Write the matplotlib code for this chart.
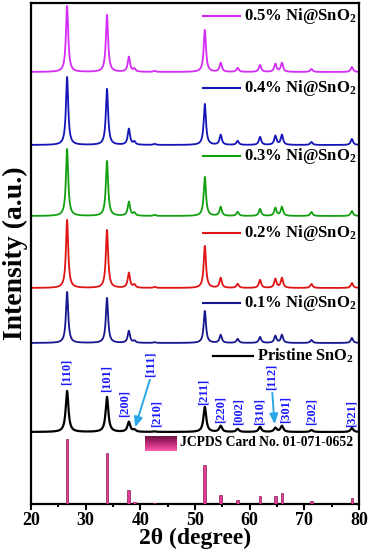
import numpy as np
import matplotlib
matplotlib.use("Agg")
import matplotlib.pyplot as plt
from matplotlib.colors import LinearSegmentedColormap

plt.rcParams['font.family'] = ['Liberation Serif', 'DejaVu Serif']
plt.rcParams['font.weight'] = 'bold'
plt.rcParams['axes.labelweight'] = 'bold'
plt.rcParams['mathtext.fontset'] = 'custom'
plt.rcParams['mathtext.rm'] = 'Liberation Serif:bold'
plt.rcParams['mathtext.it'] = 'Liberation Serif:bold'
plt.rcParams['mathtext.bf'] = 'Liberation Serif:bold'

# ---- data ----
peak_pos = [26.6, 33.9, 37.9, 38.9, 42.6, 51.8, 54.7, 57.8, 61.9, 64.7, 65.9, 71.3, 78.7]
hkl = ['[110]', '[101]', '[200]', '[111]', '[210]', '[211]', '[220]', '[002]',
       '[310]', '[112]', '[301]', '[202]', '[321]']
jcpds_int = [65, 51, 14, 2, 0.6, 39, 9, 4, 8, 8, 11, 3, 6]

pristine = [41, 35, 10, 2, 0.5, 25, 6, 3, 5, 4, 6, 2, 4]
ni01 = [51, 45, 12, 2, 0.7, 32, 8, 4, 6, 7, 8, 3, 5]
ni02 = [68, 58, 15, 3, 1, 42, 10, 4, 8, 9, 10, 4, 5]
ni03 = [67, 55, 14, 3, 1, 39, 9, 4, 7, 8, 9, 4, 5]
ni04 = [68, 56, 16, 3, 1, 41, 10, 4, 8, 9, 10, 3, 6]
ni05 = [66, 57, 15, 3, 1, 42, 9, 4, 7, 8, 9, 3, 5]

series_names = ['Pristine SnO$_{\\mathbf{2}}$', '0.1% Ni@SnO$_{\\mathbf{2}}$', '0.2% Ni@SnO$_{\\mathbf{2}}$',
                '0.3% Ni@SnO$_{\\mathbf{2}}$', '0.4% Ni@SnO$_{\\mathbf{2}}$', '0.5% Ni@SnO$_{\\mathbf{2}}$']
series_vals = [pristine, ni01, ni02, ni03, ni04, ni05]
offsets = [72, 161, 216, 288, 359, 432]
fwhm = [0.6, 0.5, 0.5, 0.5, 0.5, 0.5]
colors = ['#000000', '#16168f', '#e01414', '#12a012', '#1414b8', '#d42cf5']
label_y = [148, 201, 271, 348, 416, 488]

hkl_x = [26.6, 33.9, 37.2, 41.8, 43.0, 51.6, 54.7, 57.9, 61.8, 64.0, 66.5, 71.4, 78.7]
hkl_y = [119, 112, 87, 127, 77, 99, 81, 79, 79, 114, 81, 79, 77]

# ---- figure ----
fig = plt.figure(figsize=(3.69, 5.49), dpi=100)
ax = fig.add_axes([31/369, 45/549, 328/369, 501/549])

x = np.linspace(20, 80, 3000)
for vals, off, w, c in zip(series_vals, offsets, fwhm, colors):
    y = np.full_like(x, off, dtype=float)
    g = w / 2
    for p, h in zip(peak_pos, vals):
        y += h * g**2 / ((x - p)**2 + g**2)
    ax.plot(x, y, color=c, lw=1.6 if c == '#000000' else 1.3)

# legend-like labels
for name, ly, c in zip(series_names, label_y, colors):
    if name.startswith('Pristine'):
        ax.plot([53.3, 60.6], [ly, ly], color=c, lw=1.6)
        ax.text(61.3, ly, name, color='black', fontsize=11.8, va='center', ha='left')
    else:
        ax.plot([51.5, 58.2], [ly, ly], color=c, lw=1.5)
        ax.text(58.9, ly, name, color='black', fontsize=12, va='center', ha='left')

# JCPDS bars
ax.bar(peak_pos, jcpds_int, width=0.5, bottom=0, color='#e23c95',
       edgecolor='#8a1a52', linewidth=0.5, zorder=3)
cmap = LinearSegmentedColormap.from_list('jc', ['#6e1440', '#c02a78', '#ff5cb0'])
grad = np.linspace(0, 1, 50).reshape(-1, 1)
ax.imshow(grad, extent=[40.9, 46.7, 53, 68], aspect='auto', cmap=cmap,
          origin='upper', zorder=3)
ax.text(47.3, 61, 'JCPDS Card No. 01-071-0652', fontsize=9.8, va='center', ha='left')

# hkl labels
for lab, hx, hy in zip(hkl, hkl_x, hkl_y):
    ax.text(hx, hy, lab, rotation=90, color='#1a1aff', fontsize=9,
            ha='center', va='bottom')

arrow_kw = dict(arrowstyle='-|>,head_length=0.6,head_width=0.25', color='#2ba6e6', lw=1.4)
ax.annotate('', xy=(38.9, 74), xytext=(41.9, 127), arrowprops=arrow_kw)
ax.annotate('', xy=(64.6, 77), xytext=(64.1, 114), arrowprops=arrow_kw)

ax.set_xlim(20, 80)
ax.set_ylim(0, 501)
ax.set_xticks([20, 30, 40, 50, 60, 70, 80])
ax.set_xticks([25, 35, 45, 55, 65, 75], minor=True)
ax.set_yticks([])
ax.tick_params(axis='x', direction='out', length=4, width=1.5, labelsize=13, pad=2)
ax.tick_params(axis='x', which='minor', direction='out', length=2, width=1.5)
for s in ax.spines.values():
    s.set_linewidth(1.6)
ax.set_xlabel('2θ (degree)', fontsize=17, fontweight='bold', labelpad=-1)
ax.set_ylabel('Intensity (a.u.)', fontsize=20, fontweight='bold', labelpad=2)

fig.savefig('out.png', dpi=100)
